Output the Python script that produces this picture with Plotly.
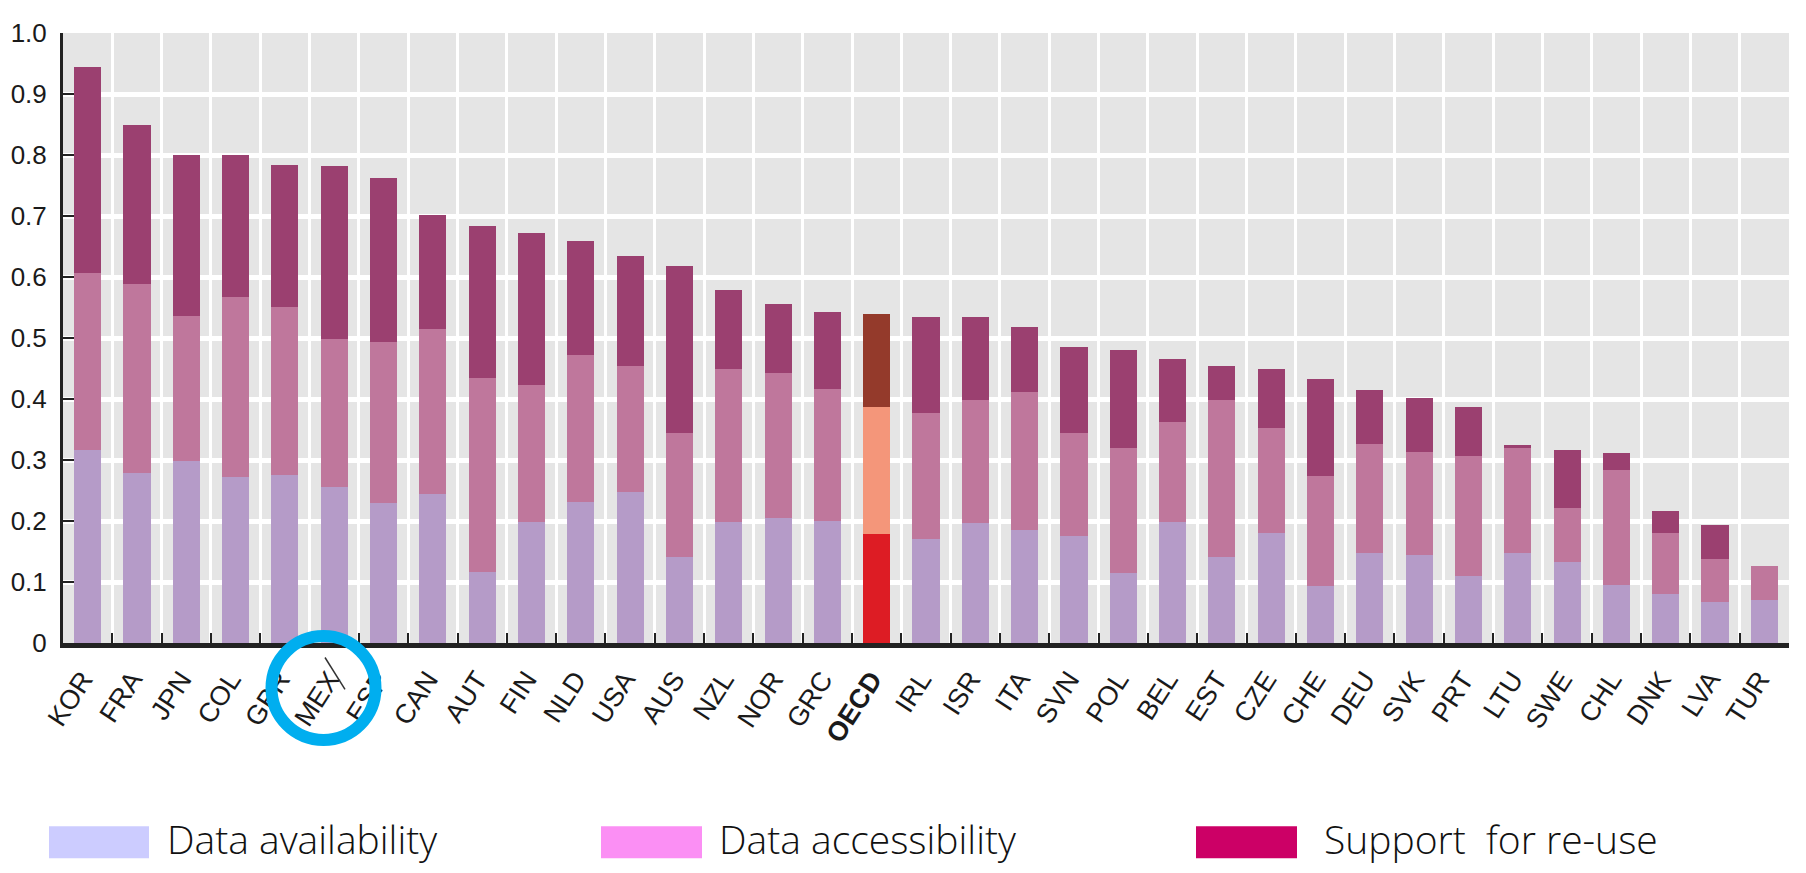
import plotly.graph_objects as go

countries = ["KOR", "FRA", "JPN", "COL", "GBR", "MEX", "ESP", "CAN", "AUT", "FIN",
             "NLD", "USA", "AUS", "NZL", "NOR", "GRC", "OECD", "IRL", "ISR", "ITA",
             "SVN", "POL", "BEL", "EST", "CZE", "CHE", "DEU", "SVK", "PRT", "LTU",
             "SWE", "CHL", "DNK", "LVA", "TUR"]

availability = [0.317, 0.278, 0.298, 0.272, 0.275, 0.255, 0.229, 0.244, 0.116, 0.198,
                0.231, 0.247, 0.141, 0.198, 0.205, 0.200, 0.178, 0.171, 0.196, 0.186,
                0.175, 0.115, 0.199, 0.141, 0.181, 0.094, 0.147, 0.144, 0.110, 0.147,
                0.132, 0.095, 0.080, 0.067, 0.070]

accessibility = [0.290, 0.311, 0.238, 0.295, 0.276, 0.244, 0.264, 0.270, 0.319, 0.225,
                 0.241, 0.207, 0.203, 0.252, 0.237, 0.217, 0.209, 0.206, 0.203, 0.226,
                 0.169, 0.204, 0.163, 0.258, 0.171, 0.179, 0.179, 0.169, 0.197, 0.173,
                 0.089, 0.188, 0.101, 0.071, 0.056]

support = [0.337, 0.260, 0.264, 0.233, 0.233, 0.283, 0.270, 0.187, 0.248, 0.249,
           0.187, 0.180, 0.274, 0.129, 0.113, 0.125, 0.152, 0.157, 0.135, 0.106,
           0.141, 0.162, 0.104, 0.055, 0.098, 0.159, 0.088, 0.088, 0.080, 0.005,
           0.095, 0.029, 0.036, 0.056, 0.000]

series_names = ["Data availability", "Data accessibility", "Support\u00a0 for re-use"]
bar_colors = ["#b59bc8", "#bf779c", "#9b4070"]
oecd_colors = ["#dd1c24", "#f4967a", "#943a2b"]
legend_colors = ["#ccccff", "#fb8ff4", "#cc0066"]

y_ticks = [0, 0.1, 0.2, 0.3, 0.4, 0.5, 0.6, 0.7, 0.8, 0.9, 1.0]
y_ticktext = ["0", "0.1", "0.2", "0.3", "0.4", "0.5", "0.6", "0.7", "0.8", "0.9", "1.0"]

tick_text = ["<b>OECD</b>" if c == "OECD" else c for c in countries]

# page body has an 8px margin: figure is sized so that it fills the window exactly
OFF = 8
W, H = 1806 - 2 * OFF, 873 - 2 * OFF
L, R, T = 63 - OFF, 9, 33 - OFF
B = H - (643.5 - OFF)
PW, PH = W - L - R, H - T - B


def px(xp):  # page pixel -> paper
    return (xp - OFF - L) / PW


def py(yp):
    return (H - B - (yp - OFF)) / PH


NARROW = "Liberation Sans Narrow, Arial Narrow, Liberation Sans, Arial, sans-serif"

fig = go.Figure()
for vals, name, col, ocol in zip([availability, accessibility, support], series_names,
                                 bar_colors, oecd_colors):
    cols = [ocol if c == "OECD" else col for c in countries]
    fig.add_bar(x=countries, y=vals, name=name, marker_color=cols,
                marker_line_width=0, showlegend=False)

fig.update_layout(
    width=W, height=H,
    margin=dict(l=L, r=R, t=T, b=B, autoexpand=False),
    barmode="stack", bargap=0.45,
    plot_bgcolor="#e5e5e5", paper_bgcolor="white",
    font=dict(family=NARROW, color="#1a1a1a"),
)
fig.update_xaxes(
    type="category", range=[-0.5, len(countries) - 0.5], automargin=False,
    tickmode="array", tickvals=countries, ticktext=tick_text,
    tickson="boundaries", showgrid=True, gridcolor="white", gridwidth=3,
    ticks="inside", ticklen=10, tickwidth=2, tickcolor="#222",
    showline=True, linecolor="#222", linewidth=5,
    tickangle=-57, tickfont=dict(size=27, family=NARROW, color="#1a1a1a"),
    ticklabelstandoff=5, ticklabelshift=-5,
)
fig.update_yaxes(
    range=[0, 1.0], tickmode="array", tickvals=y_ticks, ticktext=y_ticktext,
    automargin=False,
    showgrid=True, gridcolor="white", gridwidth=5, zeroline=False,
    ticks="inside", ticklen=11, tickwidth=2, tickcolor="#222",
    showline=True, linecolor="#222", linewidth=3,
    tickfont=dict(size=26, family=NARROW, color="#1a1a1a"),
    ticklabelstandoff=8,
)

legend_rects = [(49, 149), (601, 702), (1196, 1297)]
legend_text_x = [166, 718, 1323]
for (x0, x1), tx, name, col in zip(legend_rects, legend_text_x, series_names, legend_colors):
    fig.add_shape(type="rect", xref="paper", yref="paper",
                  x0=px(x0), x1=px(x1), y0=py(859), y1=py(827),
                  fillcolor=col, line_width=0, layer="above")
    fig.add_annotation(xref="paper", yref="paper", x=px(tx), y=py(839),
                       xanchor="left", yanchor="middle", showarrow=False, text=name,
                       borderpad=0,
                       font=dict(family="Open Sans, Lato, sans-serif", size=39,
                                 color="#111", weight=300))

# highlight circle drawn over the MEX label in the reference
fig.add_shape(type="circle", xref="paper", yref="paper",
              x0=px(271.5), x1=px(375.5), y0=py(740.5), y1=py(636.5),
              line=dict(color="#00aeef", width=12), layer="above")
fig.add_shape(type="line", xref="paper", yref="paper",
              x0=px(325), y0=py(658), x1=px(345), y1=py(690),
              line=dict(color="#333", width=1.5), layer="above")

fig.write_html("out.html")
